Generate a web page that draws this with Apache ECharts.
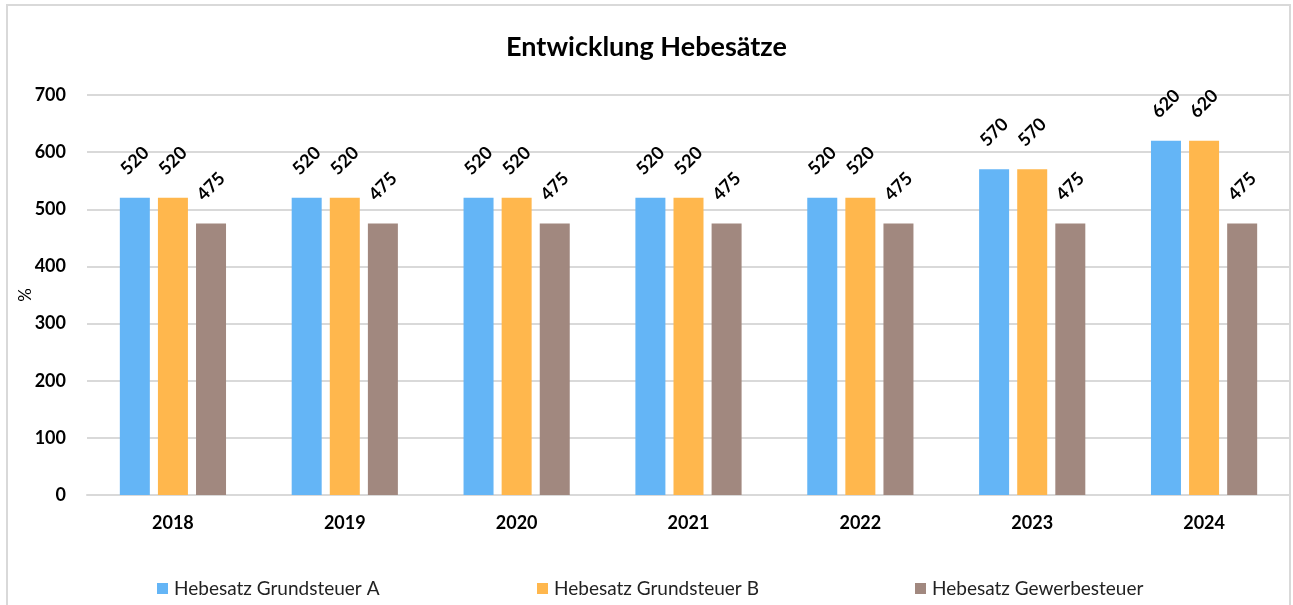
<!DOCTYPE html>
<html>
<head>
<meta charset="utf-8">
<script src="https://cdn.jsdelivr.net/npm/echarts@6/dist/echarts.min.js"></script>
<style>
    body { margin: 0; background: #fff; }
    #chart { width: 1293px; height: 605px; }
</style>
</head>
<body>
<div id="chart"></div>
<script>
var years = ['2018', '2019', '2020', '2021', '2022', '2023', '2024'];
var grundA = [520, 520, 520, 520, 520, 570, 620];
var grundB = [520, 520, 520, 520, 520, 570, 620];
var gewerbe = [475, 475, 475, 475, 475, 475, 475];
var yTicks = [0, 100, 200, 300, 400, 500, 600, 700];

var FONT = 'Lato';

var myChart = echarts.init(document.getElementById('chart'));

function barLabel() {
    return {
        show: true,
        position: 'top',
        distance: 37,
        rotate: 45,
        align: 'center',
        verticalAlign: 'middle',
        fontFamily: FONT,
        fontWeight: 'bold',
        fontSize: 18,
        color: '#000'
    };
}

function legendAt(left, name) {
    return {
        data: [name],
        left: left,
        top: 579,
        padding: 0,
        itemWidth: 11,
        itemHeight: 11,
        itemGap: 0,
        icon: 'rect',
        textStyle: {fontFamily: FONT, fontSize: 19, color: '#222', padding: [0, 0, 0, 1]}
    };
}

option = {
    animation: false,
    title: {
        text: 'Entwicklung Hebesätze',
        left: 'center',
        top: 29,
        textStyle: {fontFamily: FONT, fontWeight: 'bold', fontSize: 27, color: '#000'}
    },
    graphic: [{
        type: 'rect',
        shape: {x: 7, y: 5, width: 1283, height: 640},
        style: {fill: 'none', stroke: '#d9d9d9', lineWidth: 2},
        silent: true
    }],
    legend: [
        legendAt(157, 'Hebesatz Grundsteuer A'),
        legendAt(537, 'Hebesatz Grundsteuer B'),
        legendAt(915, 'Hebesatz Gewerbesteuer')
    ],
    grid: {left: 87, right: 3, top: 95, bottom: 110},
    xAxis: {
        type: 'category',
        data: years,
        axisTick: {show: false},
        axisLine: {lineStyle: {color: '#d9d9d9', width: 2}},
        axisLabel: {
            margin: 19,
            fontFamily: FONT,
            fontWeight: 'bold',
            fontSize: 18,
            color: '#000'
        }
    },
    yAxis: {
        type: 'value',
        min: yTicks[0],
        max: yTicks[yTicks.length - 1],
        interval: 100,
        name: '%',
        nameLocation: 'middle',
        nameRotate: 90,
        nameGap: 53,
        nameMoveOverlap: false,
        nameTextStyle: {fontFamily: FONT, fontSize: 17, color: '#000'},
        axisLine: {show: false},
        axisTick: {show: false},
        splitLine: {lineStyle: {color: '#d9d9d9', width: 2}},
        axisLabel: {
            margin: 21,
            fontFamily: FONT,
            fontWeight: 'bold',
            fontSize: 18,
            color: '#000'
        }
    },
    series: [
        {
            name: 'Hebesatz Grundsteuer A',
            type: 'bar',
            data: grundA,
            barWidth: 30,
            barGap: '27%',
            itemStyle: {color: '#64B5F6'},
            label: barLabel()
        },
        {
            name: 'Hebesatz Grundsteuer B',
            type: 'bar',
            data: grundB,
            barWidth: 30,
            barGap: '27%',
            itemStyle: {color: '#FFB74D'},
            label: barLabel()
        },
        {
            name: 'Hebesatz Gewerbesteuer',
            type: 'bar',
            data: gewerbe,
            barWidth: 30,
            barGap: '27%',
            itemStyle: {color: '#A1887F'},
            label: barLabel()
        }
    ]
};
myChart.setOption(option);
</script>
</body>
</html>
